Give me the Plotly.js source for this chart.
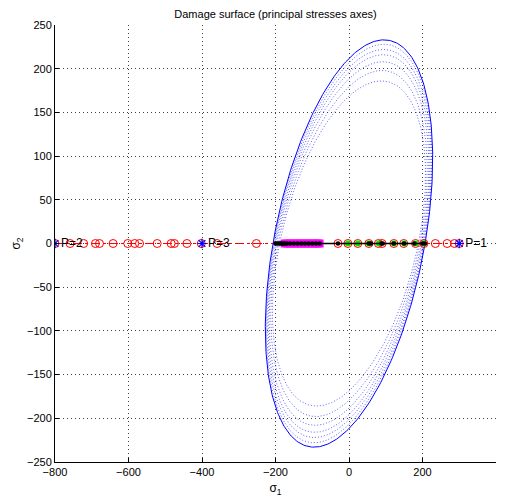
<!DOCTYPE html>
<html>
<head>
<meta charset="utf-8">
<script src="https://cdn.plot.ly/plotly-3.0.1.min.js"></script>
<style>html,body{margin:0;padding:0;background:#fff;}#chart{width:505px;height:500px;}</style>
</head>
<body>
<div id="chart"></div>
<script>
// Ellipse family (damage surfaces): sigma1-axis crossing, peak position (x, y)
const ellCross = [207, 205, 203, 200, 197, 193, 189];
const ellPeakX = [95, 95, 94, 93, 92, 90, 88];
const ellPeakY = [233, 228, 222, 216, 208, 198, 186];

// Red open circles (dash-dot line) along sigma2 = 0
const redX = [-800, -759, -722, -690, -679, -642, -602, -583, -570, -522, -484, -475, -441, -402, -359, -252,
              -30, -3, 24, 54, 80, 90, 122, 149, 181, 204, 235, 267, 287, 300];
// Black points (solid line)
const blackX = [-200, -195, -190, -186, -182, -178, -174, -168, -160, -150, -140, -130, -120, -110, -100, -90, -80,
                -30, 54, 60, 88, 92, 122, 150, 178, 200, 207];
// Magenta filled squares
const magX = [-175, -168, -160, -152, -145, -137, -130, -122, -115, -107, -100, -92, -85, -80];
// Green filled circles
const greenX = [-3, 24, 54, 81, 122, 150, 181, 204];
// Load points P
const pX = [300, -800, -400];
const pLabels = ['P=1', 'P=2', 'P=3'];

const zeros = a => a.map(() => 0);

const traces = [];
const N = 360;
for (let k = 0; k < ellCross.length; k++) {
  const xs = [], ys = [];
  for (let i = 0; i <= N; i++) {
    const t = 2 * Math.PI * i / N;
    xs.push(ellCross[k] * Math.cos(t) + ellPeakX[k] * Math.sin(t));
    ys.push(ellPeakY[k] * Math.sin(t));
  }
  traces.push({
    x: xs, y: ys, mode: 'lines', type: 'scatter',
    line: k === 0 ? {color: '#0000ff', width: 1} : {color: 'rgba(30,30,255,0.7)', width: 1, dash: '1px,2px'},
    hoverinfo: 'skip'
  });
}
traces.push({
  x: redX, y: zeros(redX), mode: 'lines+markers', type: 'scatter',
  line: {color: '#ff0000', width: 1, dash: 'dashdot'},
  marker: {symbol: 'circle-open', size: 8, color: '#ff0000', line: {width: 1, color: '#ff0000'}}
});
traces.push({
  x: greenX, y: zeros(greenX), mode: 'markers', type: 'scatter',
  marker: {symbol: 'circle', size: 6, color: '#00ee00', line: {width: 0}}
});
traces.push({
  x: magX, y: zeros(magX), mode: 'markers', type: 'scatter',
  marker: {symbol: 'square', size: 8, color: '#ff00ff', line: {width: 0}}
});
traces.push({
  x: blackX, y: zeros(blackX), mode: 'lines+markers', type: 'scatter',
  line: {color: '#000000', width: 1.5},
  marker: {symbol: 'circle', size: 4.5, color: '#000000'}
});
traces.push({
  x: pX, y: zeros(pX), mode: 'markers+text', type: 'scatter',
  marker: {symbol: 'asterisk-open', size: 8, color: '#0000ff', line: {width: 1.2, color: '#0000ff'}},
  text: pLabels, textposition: 'middle right',
  textfont: {family: 'Liberation Sans, Arial, sans-serif', size: 12, color: '#000'}
});

const axisCommon = {
  showline: true, linecolor: '#000', linewidth: 1, mirror: false,
  ticks: 'inside', ticklen: 4, tickcolor: '#000',
  showgrid: true, gridcolor: 'rgba(0,0,0,0.75)', griddash: '1px,3px', gridwidth: 1,
  zeroline: false,
  tickfont: {family: 'Liberation Sans, Arial, sans-serif', size: 11, color: '#000'}
};

const layout = {
  width: 505, height: 500,
  margin: {l: 55, r: 9, t: 25, b: 38},
  paper_bgcolor: '#fff', plot_bgcolor: '#fff',
  showlegend: false,
  title: {text: 'Damage surface (principal stresses axes)', x: 0.5, xref: 'paper', y: 0.972, yref: 'container', yanchor: 'middle',
          font: {family: 'Liberation Sans, Arial, sans-serif', size: 11, color: '#000'}},
  xaxis: Object.assign({}, axisCommon, {
    range: [-800, 400], tickvals: [-800, -600, -400, -200, 0, 200, 400],
    title: {text: 'σ<sub>1</sub>', standoff: 6, font: {family: 'Liberation Sans, Arial, sans-serif', size: 12, color: '#000'}}
  }),
  yaxis: Object.assign({}, axisCommon, {
    range: [-250, 250], tickvals: [-250, -200, -150, -100, -50, 0, 50, 100, 150, 200, 250],
    title: {text: 'σ<sub>2</sub>', standoff: 3, font: {family: 'Liberation Sans, Arial, sans-serif', size: 12, color: '#000'}}
  })
};

Plotly.newPlot('chart', traces, layout, {staticPlot: true, displayModeBar: false});
</script>
</body>
</html>
